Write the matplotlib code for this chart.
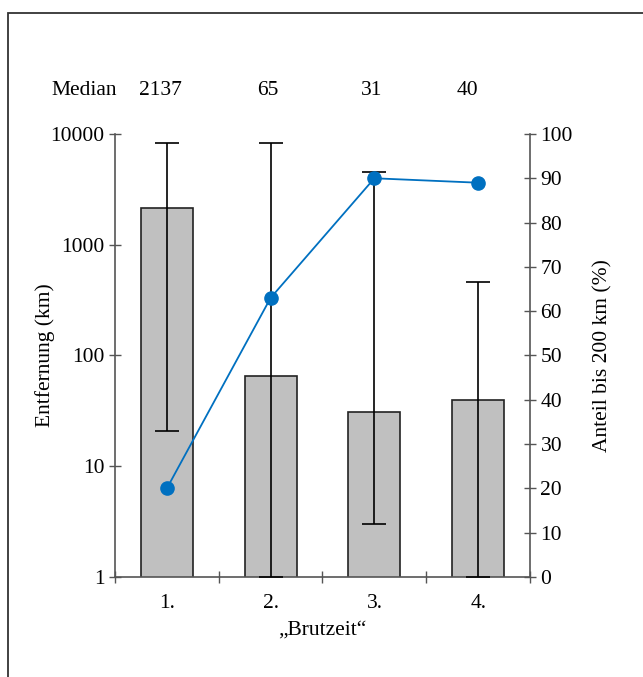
import numpy as np
import matplotlib.pyplot as plt
from matplotlib.patches import Rectangle

plt.rcParams['font.family'] = ['Liberation Serif', 'DejaVu Serif']

# breeding periods and distances (km)
periods = ['1.', '2.', '3.', '4.']
median_km = [2137, 65, 31, 40]
err_low_km = [21, 1, 3, 1]
err_high_km = [8300, 8300, 4500, 460]
# share of recoveries within 200 km (%)
share_200 = [20, 63, 90, 89]

axis_col = '#555555'
fs = 15.5

fig = plt.figure(figsize=(6.43, 6.77), dpi=100)
ax = fig.add_axes([0.1788, 0.1477, 0.6455, 0.6544])

x = np.arange(len(periods))
ax.bar(x, median_km, width=0.5, color='#c0c0c0', edgecolor='#222222',
       linewidth=1.2, zorder=2)
yerr = [np.array(median_km) - np.array(err_low_km),
        np.array(err_high_km) - np.array(median_km)]
ax.errorbar(x, median_km, yerr=yerr, fmt='none', ecolor='black',
            elinewidth=1.2, capsize=8.5, capthick=1.2, zorder=3)

ax.set_yscale('log')
ax.set_ylim(1, 10000)
ax.set_xlim(-0.5, len(periods) - 0.5)
ax.set_yticks([1, 10, 100, 1000, 10000])
ax.set_yticklabels(['1', '10', '100', '1000', '10000'])
ax.yaxis.set_minor_locator(plt.NullLocator())

# boundary ticks on the category axis, labels in the middle
ax.set_xticks(np.arange(-0.5, len(periods), 1.0))
ax.set_xticklabels([])
ax.set_xticks(x, minor=True)
ax.set_xticklabels(periods, minor=True)
ax.tick_params(axis='x', which='minor', length=0, labelsize=fs, pad=12)
ax.tick_params(axis='x', which='major', direction='inout', length=9,
               color=axis_col, width=1)
ax.tick_params(axis='y', direction='inout', length=9, color=axis_col,
               width=1, labelsize=fs, pad=3)

for s in ['top', 'right']:
    ax.spines[s].set_visible(False)
for s in ['left', 'bottom']:
    ax.spines[s].set_color(axis_col)
    ax.spines[s].set_linewidth(1.2)

ax.set_ylabel('Entfernung (km)', fontsize=fs, labelpad=-3)
ax.set_xlabel('\u201eBrutzeit\u201c', fontsize=fs, labelpad=6)

ax2 = ax.twinx()
ax2.plot(x, share_200, color='#0070c0', linewidth=1.3, marker='o',
         markersize=9.5, zorder=4)
ax2.set_ylim(0, 100)
ax2.set_yticks(np.arange(0, 101, 10))
ax2.tick_params(axis='y', direction='inout', length=9, color=axis_col,
                width=1, labelsize=fs, pad=3)
for s in ['top', 'left', 'bottom']:
    ax2.spines[s].set_visible(False)
ax2.spines['right'].set_color(axis_col)
ax2.spines['right'].set_linewidth(1.2)
ax2.set_ylabel('Anteil bis 200 km (%)', fontsize=fs, labelpad=15)

# median row above the plot
offsets = [-0.06, -0.03, -0.03, -0.1]
ax.text(-0.075, 1.098, 'Median', transform=ax.transAxes,
        ha='center', va='center', fontsize=fs)
for xi, m, off in zip(x, median_km, offsets):
    ax.text(xi + off, 1.098, str(m), transform=ax.get_xaxis_transform(),
            ha='center', va='center', fontsize=fs)

# outer frame
fig.patches.append(Rectangle((8 / 643, -0.1), 1.2, 1 - 13 / 677 + 0.1,
                             transform=fig.transFigure, fill=False,
                             edgecolor='#333333', linewidth=1.3))

fig.savefig('out.png', dpi=100)
